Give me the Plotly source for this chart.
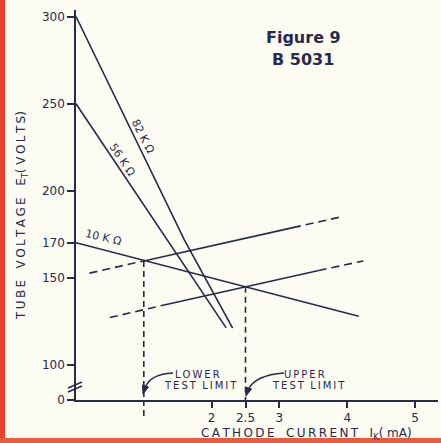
import plotly.graph_objects as go

# ---- data ----
load_82k_x = [0, 1.6, 2.31]
load_82k_y = [300, 171.7, 121.2]
load_56k_x = [0, 2.215]
load_56k_y = [250, 121.4]
load_10k_x = [0, 4.17]
load_10k_y = [170.2, 128.1]

# tube characteristic at lower test limit (dashed / solid / dashed)
tubeA_x = [0.2, 1.0, 3.2, 3.9]
tubeA_y = [152.8, 159.8, 178.9, 185.0]
# tube characteristic at upper test limit
tubeB_x = [0.5, 1.3, 3.58, 4.24]
tubeB_y = [127.3, 134.5, 154.3, 159.8]

limit_x = [1.0, 2.5]
limit_y = [159.8, 145.0]

y_tickvals = [80, 100, 150, 170, 200, 250, 300]
y_ticktext = ["0", "100", "150", "170", "200", "250", "300"]
x_tickvals = [2, 2.5, 3, 4, 5]
x_ticktext = ["2", "2.5", "3", "4", "5"]

INK = "#272a4c"
BG = "#fcfcf3"
FONT = "DejaVu Sans"

# pixel geometry helpers (plot area)
L, R, T, B = 76, 3, 10, 43
W, H = 441, 443
PW, PH = W - L - R, H - T - B
def px(xp):
    return (xp - L) / PW
def py(yp):
    return (H - B - yp) / PH

def spaced(word):
    return "\u2009".join(word)

fig = go.Figure()
lw = 1.6
solid = dict(color=INK, width=lw)
dashed = dict(color=INK, width=lw, dash="8px,5px")

fig.add_trace(go.Scatter(x=load_82k_x, y=load_82k_y, mode="lines", line=solid))
fig.add_trace(go.Scatter(x=load_56k_x, y=load_56k_y, mode="lines", line=solid))
fig.add_trace(go.Scatter(x=load_10k_x, y=load_10k_y, mode="lines", line=solid))

for xs, ys in ((tubeA_x, tubeA_y), (tubeB_x, tubeB_y)):
    fig.add_trace(go.Scatter(x=xs[0:2], y=ys[0:2], mode="lines", line=dashed))
    fig.add_trace(go.Scatter(x=xs[1:3], y=ys[1:3], mode="lines", line=solid))
    fig.add_trace(go.Scatter(x=xs[2:4], y=ys[2:4], mode="lines", line=dashed))

vdash = dict(color=INK, width=lw, dash="6px,4px")
for lx, ly in zip(limit_x, limit_y):
    fig.add_trace(go.Scatter(x=[lx, lx], y=[ly, y_tickvals[0]], mode="lines", line=vdash))

shapes = []
# lower limit dashed line continues below the axis
shapes.append(dict(type="line", xref="x", yref="paper", x0=limit_x[0], x1=limit_x[0],
                   y0=0, y1=py(417), line=vdash))
# axis break marks
shapes.append(dict(type="line", xref="paper", yref="paper", x0=px(68), x1=px(82),
                   y0=py(388), y1=py(382), line=dict(color=INK, width=1.5)))
shapes.append(dict(type="line", xref="paper", yref="paper", x0=px(68), x1=px(82),
                   y0=py(392), y1=py(386), line=dict(color=INK, width=1.5)))
# curved arrows to test limits
shapes.append(dict(type="path", xref="paper", yref="paper",
                   path=f"M {px(173)},{py(373)} Q {px(150)},{py(374)} {px(145)},{py(388)}",
                   line=dict(color=INK, width=1.5)))
shapes.append(dict(type="path", xref="paper", yref="paper",
                   path=f"M {px(284)},{py(373)} Q {px(255)},{py(375)} {px(248)},{py(390)}",
                   line=dict(color=INK, width=1.5)))
# arrowheads
for (tx, ty), (cx, cy) in (((143, 394), (145.5, 386)), ((246, 396), (248.5, 388))):
    dx, dy = tx - cx, ty - cy
    n = (dx * dx + dy * dy) ** 0.5
    ux, uy = -dy / n * 3.2, dx / n * 3.2
    shapes.append(dict(type="path", xref="paper", yref="paper",
                       path=(f"M {px(tx)},{py(ty)} L {px(cx + ux)},{py(cy + uy)} "
                             f"L {px(cx - ux)},{py(cy - uy)} Z"),
                       fillcolor=INK, line=dict(color=INK, width=1)))
# red page edges of the scan
shapes.append(dict(type="rect", xref="paper", yref="paper", x0=px(0), x1=px(5),
                   y0=py(H), y1=py(0), fillcolor="#e8402c", line=dict(width=0), layer="below"))
shapes.append(dict(type="rect", xref="paper", yref="paper", x0=px(0), x1=px(W),
                   y0=py(H), y1=py(438), fillcolor="#ec5a3c", line=dict(width=0), layer="below"))

ann = []
def text(x, y, s, size=11, angle=0, xref="paper", yref="paper", bold=False):
    ann.append(dict(x=x, y=y, xref=xref, yref=yref, text=(f"<b>{s}</b>" if bold else s),
                    showarrow=False, textangle=angle, xanchor="center", yanchor="middle",
                    font=dict(family=FONT, size=size, color=INK)))

text(px(303), py(38), "Figure 9", size=16, bold=True)
text(px(303), py(60), "B 5031", size=16, bold=True)
text(0.99, 231.4, "82 K Ω", size=11, angle=63, xref="x", yref="y")
text(0.69, 217.6, "56 K Ω", size=11, angle=56, xref="x", yref="y")
text(0.40, 173.0, "10 K Ω", size=11, angle=13, xref="x", yref="y")
text(px(197), py(374), spaced("LOWER"), size=10)
text(px(200), py(385), spaced("TEST") + "  " + spaced("LIMIT"), size=10)
text(px(304), py(374), spaced("UPPER"), size=10)
text(px(308), py(385), spaced("TEST") + "  " + spaced("LIMIT"), size=10)
text(px(306), py(434),
     f"{spaced('CATHODE')}   {spaced('CURRENT')}   I<sub>K</sub>( mA)", size=12)
text(px(22), py(216),
     f"{spaced('TUBE')}   {spaced('VOLTAGE')}   E<sub>T</sub>( {spaced('VOLTS')})",
     size=12, angle=-90)

fig.update_layout(
    width=W, height=H,
    margin=dict(l=L, r=R, t=T, b=B),
    paper_bgcolor=BG, plot_bgcolor=BG,
    showlegend=False,
    shapes=shapes, annotations=ann,
    font=dict(family=FONT, color=INK),
    xaxis=dict(range=[0, PW / 67.8], showgrid=False, zeroline=False,
               showline=True, linecolor=INK, linewidth=1.6,
               ticks="outside", ticklen=6, tickwidth=1.5, tickcolor=INK,
               tickvals=x_tickvals, ticktext=x_ticktext, automargin=False,
               tickfont=dict(family=FONT, size=12, color=INK)),
    yaxis=dict(range=[80, 80 + PH / 1.743], showgrid=False, zeroline=False,
               showline=True, linecolor=INK, linewidth=1.6,
               ticks="outside", ticklen=7, tickwidth=1.5, tickcolor=INK,
               tickvals=y_tickvals, ticktext=y_ticktext, automargin=False,
               tickfont=dict(family=FONT, size=12, color=INK)),
)

fig.write_html("out.html", config={"displayModeBar": False},
               post_script="document.body.style.margin='0px';document.body.style.overflow='hidden';")
